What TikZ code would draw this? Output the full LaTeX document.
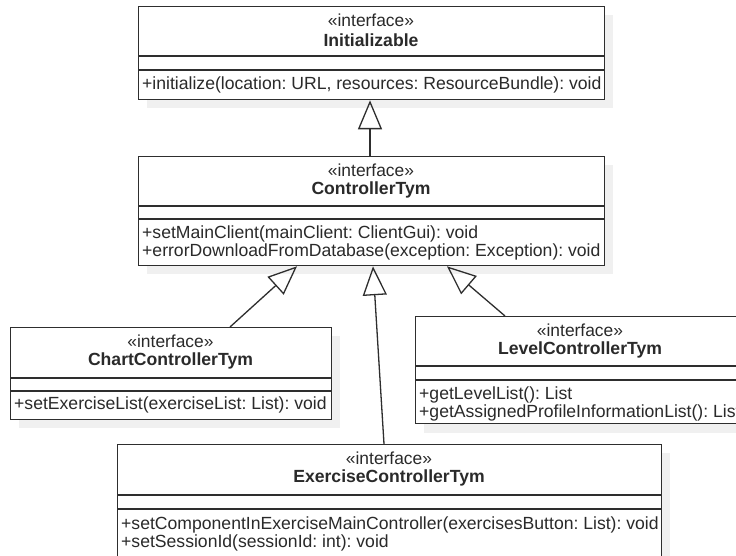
\documentclass[tikz,border=0pt]{standalone}
\usepackage{fontspec}
\setmainfont{Liberation Sans}
\usetikzlibrary{arrows.meta}
\definecolor{lnc}{HTML}{2E2E2E}
\definecolor{txc}{HTML}{2A2A2A}
\definecolor{shc}{HTML}{F0F0F0}
\frenchspacing
\tikzset{
  x=1pt, y=-1pt,
  umlbox/.style={draw=lnc, line width=1.3pt, fill=white, inner sep=0pt, anchor=north west},
  shadowbox/.style={fill=shc, draw=none},
  sep/.style={draw=lnc, line width=1.3pt},
  stereo/.style={font=\fontsize{17.4}{20}\selectfont, text=txc, inner sep=0pt},
  cname/.style={font=\fontsize{17.6}{20}\selectfont\bfseries, text=txc, inner sep=0pt},
  meth/.style={font=\fontsize{17.6}{20}\selectfont, text=txc, inner sep=0pt, anchor=west},
  gen/.style={draw=lnc, line width=1.3pt, -{Triangle[open, length=29pt, width=24pt, line width=1.3pt]}},
}
\begin{document}
\begin{tikzpicture}
\clip (0,0) rectangle (736,556);
\fill[white] (0,0) rectangle (736,556);
% shadows
\fill[shadowbox] (147,15) rectangle (613,108);
\fill[shadowbox] (147,165) rectangle (613,274);
\fill[shadowbox] (19,336) rectangle (340,428);
\fill[shadowbox] (424,325) rectangle (760,433);
\fill[shadowbox] (126,453) rectangle (670,570);
% Initializable
\node[umlbox, minimum width=466pt, minimum height=93pt] (init) at (138,6) {};
\draw[sep] (138,56) -- (604,56);
\draw[sep] (138,70) -- (604,70);
\node[stereo] (initst) at (371,20) {«interface»};
\node[cname] (initnm) at (371,40) {Initializable};
\node[meth] (initm1) at (142,85) {+initialize(location: URL, resources: ResourceBundle): void};
% ControllerTym
\node[umlbox, minimum width=466pt, minimum height=109pt] (ctrl) at (138,156) {};
\draw[sep] (138,206) -- (604,206);
\draw[sep] (138,219) -- (604,219);
\node[stereo] (ctrlst) at (371,170) {«interface»};
\node[cname] (ctrlnm) at (371,190) {ControllerTym};
\node[meth] (ctrlm1) at (142,234) {+setMainClient(mainClient: ClientGui): void};
\node[meth] (ctrlm2) at (142,252) {+errorDownloadFromDatabase(exception: Exception): void};
% ChartControllerTym
\node[umlbox, minimum width=321pt, minimum height=92pt] (chart) at (10,327) {};
\draw[sep] (10,378) -- (331,378);
\draw[sep] (10,391) -- (331,391);
\node[stereo] (chartst) at (170.5,341) {«interface»};
\node[cname] (chartnm) at (170.5,361) {ChartControllerTym};
\node[meth] (chartm1) at (14,405) {+setExerciseList(exerciseList: List): void};
% LevelControllerTym
\node[umlbox, minimum width=330pt, minimum height=107pt] (level) at (415,316) {};
\draw[sep] (415,366) -- (745,366);
\draw[sep] (415,380) -- (745,380);
\node[stereo] (levelst) at (580,330) {«interface»};
\node[cname] (levelnm) at (580,350) {LevelControllerTym};
\node[meth] (levelm1) at (419,395) {+getLevelList(): List};
\node[meth] (levelm2) at (419,413) {+getAssignedProfileInformationList(): List};
% ExerciseControllerTym
\node[umlbox, minimum width=544pt, minimum height=120pt] (ex) at (117,444) {};
\draw[sep] (117,495) -- (661,495);
\draw[sep] (117,509) -- (661,509);
\node[stereo] (exst) at (389,458) {«interface»};
\node[cname] (exnm) at (389,478) {ExerciseControllerTym};
\node[meth] (exm1) at (121,525) {+setComponentInExerciseMainController(exercisesButton: List): void};
\node[meth] (exm2) at (121,543) {+setSessionId(sessionId: int): void};
% connector end points
\coordinate (c1s) at ([xshift=232pt]ctrl.north west);
\coordinate (c1e) at ([xshift=232pt]init.south west);
\coordinate (c2s) at ([xshift=220pt]chart.north west);
\coordinate (c2e) at ([xshift=159pt]ctrl.south west);
\coordinate (c3s) at ([xshift=267pt]ex.north west);
\coordinate (c3e) at ([xshift=235pt]ctrl.south west);
\coordinate (c4s) at ([xshift=90pt]level.north west);
\coordinate (c4e) at ([xshift=309pt]ctrl.south west);
\draw[gen] (c1s) -- (c1e);
\draw[gen] (c2s) -- (c2e);
\draw[gen] (c3s) -- (c3e);
\draw[gen] (c4s) -- (c4e);
\end{tikzpicture}
\end{document}
